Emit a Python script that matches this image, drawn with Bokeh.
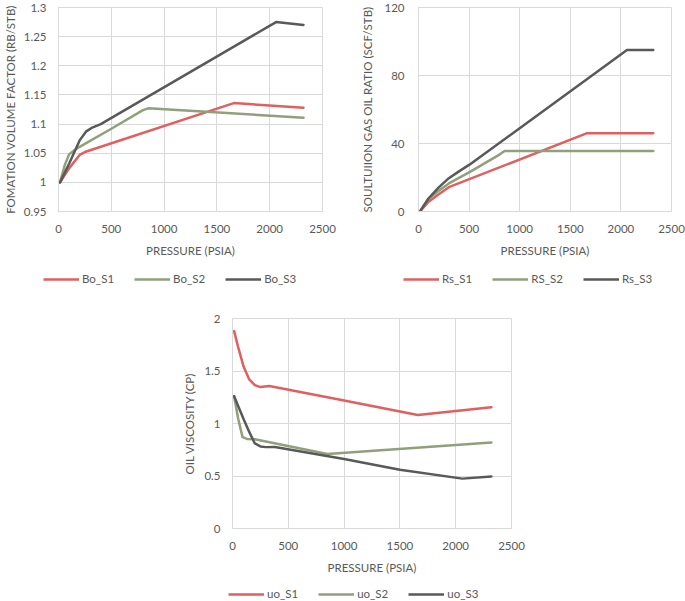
from bokeh.plotting import figure
from bokeh.models import Range1d, FixedTicker, NumeralTickFormatter, Legend, LegendItem, Spacer
from bokeh.layouts import column, row
from bokeh.embed import file_html
from bokeh.resources import INLINE

# ---------------- data ----------------
x_ticks = [0, 500, 1000, 1500, 2000, 2500]

# Formation volume factor (RB/STB)
p_bo_s1 = [14.7, 100, 200, 250, 300, 1660, 2320]
bo_s1 = [1.000, 1.024, 1.047, 1.052, 1.055, 1.136, 1.128]
p_bo_s2 = [14.7, 60, 100, 150, 200, 500, 800, 850, 2320]
bo_s2 = [1.000, 1.030, 1.048, 1.055, 1.061, 1.092, 1.124, 1.127, 1.111]
p_bo_s3 = [14.7, 100, 200, 260, 320, 400, 2060, 2320]
bo_s3 = [1.000, 1.032, 1.072, 1.087, 1.094, 1.100, 1.275, 1.270]
bo_ticks = [0.95, 1.0, 1.05, 1.1, 1.15, 1.2, 1.25, 1.3]
bo_names = ["Bo_S1", "Bo_S2", "Bo_S3"]

# Solution gas oil ratio (SCF/STB)
p_rs_s1 = [14.7, 100, 200, 300, 1660, 2320]
rs_s1 = [0.0, 5.8, 10.2, 14.3, 46.0, 46.0]
p_rs_s2 = [14.7, 100, 200, 300, 500, 800, 850, 2320]
rs_s2 = [0.0, 7.5, 12.2, 16.5, 23.0, 33.5, 35.6, 35.6]
p_rs_s3 = [14.7, 100, 200, 300, 400, 500, 1000, 2060, 2320]
rs_s3 = [0.0, 7.8, 14.2, 19.6, 23.6, 27.4, 49.0, 95.0, 95.0]
rs_ticks = [0, 40, 80, 120]
rs_names = ["Rs_S1", "RS_S2", "Rs_S3"]

# Oil viscosity (cP)
p_uo_s1 = [14.7, 50, 100, 150, 200, 250, 330, 1000, 1660, 2320]
uo_s1 = [1.88, 1.73, 1.54, 1.42, 1.365, 1.347, 1.358, 1.22, 1.08, 1.155]
p_uo_s2 = [14.7, 50, 90, 130, 200, 850, 2320]
uo_s2 = [1.26, 1.05, 0.87, 0.853, 0.85, 0.71, 0.82]
p_uo_s3 = [14.7, 100, 150, 200, 250, 300, 380, 1000, 1500, 2060, 2320]
uo_s3 = [1.26, 1.04, 0.92, 0.81, 0.782, 0.775, 0.776, 0.662, 0.56, 0.475, 0.495]
uo_ticks = [0, 0.5, 1.0, 1.5, 2.0]
uo_names = ["uo_S1", "uo_S2", "uo_S3"]

# ---------------- styling ----------------
FONT = "Lato"
FS = "11.5px"
TXT = "#595959"
GRID = "#D9D9D9"
COLORS = ["#E15F5F", "#8FA07A", "#595959"]
LW = 2.5


def make_chart(width, height, mb, yr, yticks, yfmt, ylabel, ytick_standoff,
               ylabel_standoff, series):
    p = figure(width=width, height=height, output_backend="svg", toolbar_location=None,
               x_range=Range1d(0, 2500), y_range=Range1d(*yr),
               min_border_left=mb[0], min_border_right=mb[1],
               min_border_top=mb[2], min_border_bottom=mb[3],
               background_fill_color="white", border_fill_color="white")
    p.outline_line_color = GRID
    p.xaxis.ticker = FixedTicker(ticks=x_ticks)
    p.yaxis.ticker = FixedTicker(ticks=yticks)
    p.yaxis.formatter = NumeralTickFormatter(format=yfmt)
    p.xgrid.ticker = FixedTicker(ticks=x_ticks)
    p.ygrid.ticker = FixedTicker(ticks=yticks)
    for g in (p.xgrid, p.ygrid):
        g.grid_line_color = GRID
        g.grid_line_width = 1
    for ax in (p.xaxis, p.yaxis):
        ax.axis_line_color = GRID
        ax.major_tick_line_color = None
        ax.minor_tick_line_color = None
        ax.major_tick_out = 0
        ax.major_tick_in = 0
        ax.major_label_text_font = FONT
        ax.major_label_text_font_size = FS
        ax.major_label_text_color = TXT
        ax.axis_label_text_font = FONT
        ax.axis_label_text_font_size = FS
        ax.axis_label_text_color = TXT
        ax.axis_label_text_font_style = "normal"
    p.xaxis.axis_label = "PRESSURE (PSIA)"
    p.xaxis.major_label_standoff = 13
    p.xaxis.axis_label_standoff = 8
    p.yaxis.axis_label = ylabel
    p.yaxis.major_label_standoff = ytick_standoff
    p.yaxis.axis_label_standoff = ylabel_standoff
    for (xs, ys), col in zip(series, COLORS):
        p.line(xs, ys, line_color=col, line_width=LW, line_join="round", line_cap="round")
    return p


def make_legend_strip(width, height, names, loc):
    s = figure(width=width, height=height, output_backend="svg", toolbar_location=None,
               x_range=Range1d(0, 1), y_range=Range1d(0, 1),
               x_axis_type=None, y_axis_type=None, min_border=0,
               min_border_left=0, min_border_right=0, min_border_top=0, min_border_bottom=0,
               background_fill_color="white", border_fill_color="white")
    s.outline_line_color = None
    items = []
    nan = float("nan")
    for name, col in zip(names, COLORS):
        # legend-only renderer: a single NaN point draws nothing in the strip
        r = s.line(x=[nan], y=[nan], line_color=col, line_width=LW)
        items.append(LegendItem(label=name, renderers=[r]))
    leg = Legend(items=items, orientation="horizontal", location=loc,
                 glyph_width=36, glyph_height=12, label_height=12,
                 label_standoff=3, spacing=20, padding=0, margin=0,
                 border_line_color=None, background_fill_alpha=0,
                 label_text_font=FONT, label_text_font_size=FS,
                 label_text_color=TXT)
    s.add_layout(leg, "center")
    return s


p1 = make_chart(340, 262, (58, 18, 7, 51), (0.95, 1.3), bo_ticks, "0.[00]",
                "FOMATION VOLUME FACTOR (RB/STB)", 12, 4,
                [(p_bo_s1, bo_s1), (p_bo_s2, bo_s2), (p_bo_s3, bo_s3)])
p2 = make_chart(345, 262, (78, 14, 7, 51), (0, 120), rs_ticks, "0",
                "SOULTUIION GAS OIL RATIO (SCF/STB)", 14, 7,
                [(p_rs_s1, rs_s1), (p_rs_s2, rs_s2), (p_rs_s3, rs_s3)])
p3 = make_chart(350, 277, (51, 19, 18, 49), (0, 2), uo_ticks, "0.[0]",
                "OIL VISCOSITY (CP)", 12, 5,
                [(p_uo_s1, uo_s1), (p_uo_s2, uo_s2), (p_uo_s3, uo_s3)])

leg1 = make_legend_strip(340, 38, bo_names, (43, 15))
leg2 = make_legend_strip(345, 38, rs_names, (63, 15))
leg3 = make_legend_strip(350, 24, uo_names, (48, 1))

layout = column(
    row(p1, p2),
    row(leg1, leg2),
    row(Spacer(width=180, height=277), p3),
    row(Spacer(width=180, height=24), leg3),
)

open("out.html", "w").write(file_html(layout, INLINE))
